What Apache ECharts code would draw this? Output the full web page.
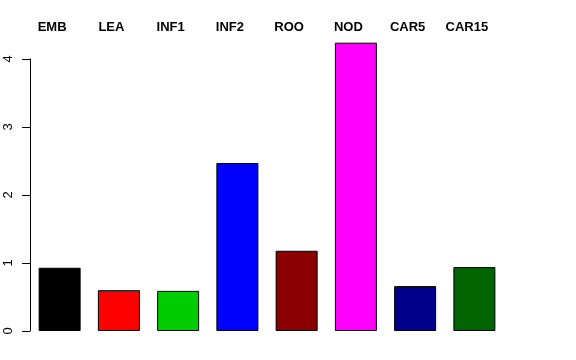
<!DOCTYPE html>
<html><head><meta charset="utf-8">
<script src="https://cdn.jsdelivr.net/npm/echarts@6/dist/echarts.min.js"></script>
<style>html,body{margin:0;padding:0;background:#fff}#c{width:576px;height:360px}</style>
</head><body><div id="c"></div>
<script>
const categories = ["EMB","LEA","INF1","INF2","ROO","NOD","CAR5","CAR15"];
const values = [0.93, 0.60, 0.59, 2.47, 1.18, 4.24, 0.66, 0.94];
const colors = ["#000000","#FF0000","#00CD00","#0000FF","#8B0000","#FF00FF","#00008B","#006400"];
const yTicks = [0,1,2,3,4];

const chart = echarts.init(document.getElementById('c'), null, {renderer:'canvas'});
chart.setOption({
  animation:false,
  backgroundColor:'#fff',
  grid:{left:30,right:72,top:59,bottom:29},
  xAxis:{
    type:'category', data:categories, position:'top',
    axisLine:{show:false}, axisTick:{show:false},
    axisLabel:{color:'#000',fontFamily:'Liberation Sans, Arial, sans-serif',fontWeight:'bold',fontSize:13,margin:25,padding:[0,15,0,0]}
  },
  yAxis:{
    type:'value', min:0, max:4, interval:1,
    splitLine:{show:false},
    axisLine:{show:true,lineStyle:{color:'#000',width:1}},
    axisTick:{show:true,length:8,lineStyle:{color:'#000'}},
    axisLabel:{color:'#000',rotate:90,fontFamily:'Liberation Sans, Arial, sans-serif',fontSize:13,margin:15,
      formatter:v=>yTicks.includes(v)?String(v):''}
  },
  series:[{
    type:'bar', clip:false, barWidth:42,
    data: values.map((v,i)=>({value:v,itemStyle:{color:colors[i]}})),
    itemStyle:{borderColor:'#000',borderWidth:1}
  }]
});
</script></body></html>
